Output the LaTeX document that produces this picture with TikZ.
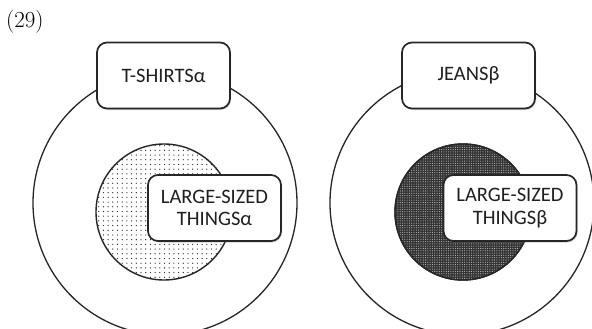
\documentclass[tikz,border=0pt]{standalone}
\usepackage{fontspec}
\setmainfont{Latin Modern Roman}
\newfontfamily\boxfont{Carlito}
\usetikzlibrary{patterns.meta,shadows}
\begin{document}
\begin{tikzpicture}[x=1pt,y=-1pt,
  outerc/.style={circle,draw=black!85,line width=1.3pt,inner sep=0pt,minimum size=264pt},
  innerc/.style={circle,draw=black!85,line width=1.4pt,inner sep=0pt,minimum size=136pt},
  labelbox/.style={draw=black!85,line width=1.7pt,fill=white,rounded corners=10pt,
     minimum width=133pt,minimum height=66pt,align=center,inner sep=2pt,
     font=\boxfont\fontsize{20.5}{22.5}\selectfont,text=black!88,
     drop shadow={shadow xshift=1pt,shadow yshift=-1.5pt,opacity=0.35}}
]
\useasboundingbox (0,0) rectangle (592,329);
\fill[white] (0,0) rectangle (592,329);
\node[font=\fontsize{23}{25}\selectfont,anchor=west,inner sep=0pt] (num) at (6,22) {(29)};
% left
\node[outerc] (oL) at (165,203) {};
\node[innerc,pattern={Dots[radius=0.65pt,distance=4.7pt]},pattern color=black!85] (iL) at (164,212) {};
\node[labelbox] (tL) at (163.5,75.5) {T-SHIRTSα};
\node[labelbox] (lL) at (214.5,208) {LARGE-SIZED\\THINGSα};
% right
\node[outerc] (oR) at (462,203) {};
\node[innerc,fill=black!80] (iRf) at (463,212) {};
\node[innerc,pattern={Dots[radius=0.55pt,distance=2.3pt]},pattern color=white!75!black] (iR) at (463,212) {};
\node[labelbox] (tR) at (468.5,75.5) {JEANSβ};
\node[labelbox] (lR) at (510,208) {LARGE-SIZED\\THINGSβ};
\end{tikzpicture}
\end{document}
